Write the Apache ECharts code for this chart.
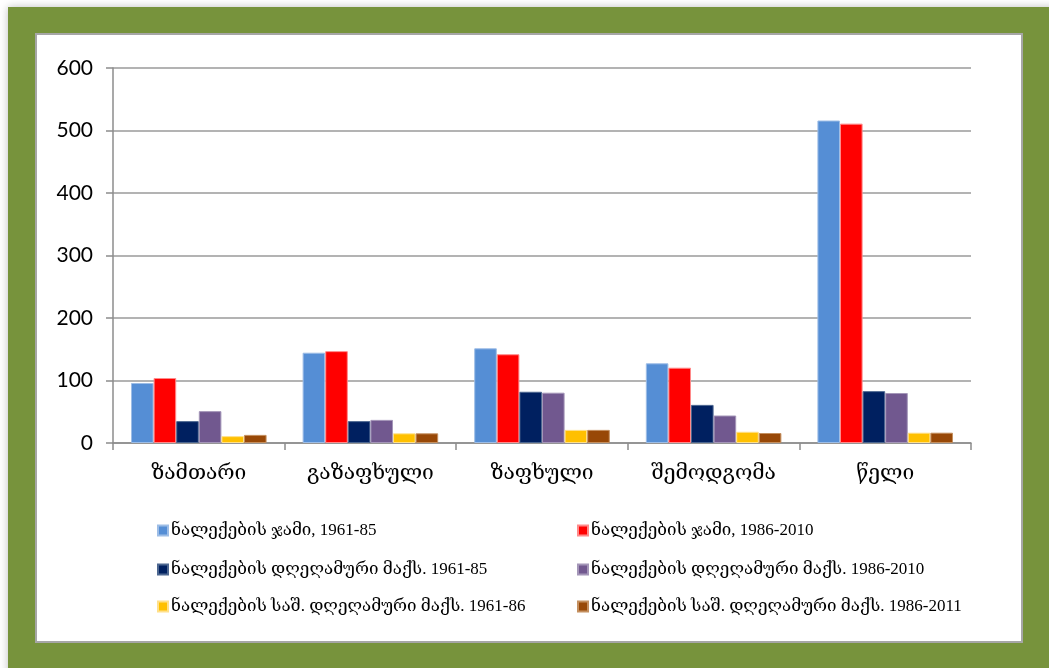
<!DOCTYPE html>
<html>
<head>
<meta charset="utf-8">
<script src="https://cdn.jsdelivr.net/npm/echarts@6/dist/echarts.min.js"></script>
<style>
  html, body { margin: 0; padding: 0; background: #ffffff; }
  #chart { width: 1049px; height: 668px; }
</style>
</head>
<body>
<div id="chart"></div>
<script>
// Seasons (x-axis categories)
const categories = ['ზამთარი', 'გაზაფხული', 'ზაფხული', 'შემოდგომა', 'წელი'];

// Precipitation series
const sumValues1961   = [96, 144.5, 151.5, 127.5, 516];
const sumValues1986   = [104, 147, 142, 120.5, 511];
const dailyMax1961    = [35, 35, 82, 61, 83];
const dailyMax1986    = [51, 37, 80.5, 44, 80];
const avgDailyMax1961 = [11, 15.5, 21, 18, 16.5];
const avgDailyMax1986 = [13, 15.5, 21, 16, 16.5];

// Y-axis ticks
const yTicks = [0, 100, 200, 300, 400, 500, 600];

const seriesNames = [
  'ნალექების ჯამი, 1961-85',
  'ნალექების ჯამი, 1986-2010',
  'ნალექების დღეღამური მაქს. 1961-85',
  'ნალექების დღეღამური მაქს. 1986-2010',
  'ნალექების საშ. დღეღამური მაქს. 1961-86',
  'ნალექების საშ. დღეღამური მაქს. 1986-2011'
];
const seriesData = [sumValues1961, sumValues1986, dailyMax1961, dailyMax1986, avgDailyMax1961, avgDailyMax1986];
const colors = ['#558ED5', '#FF0000', '#002060', '#71588F', '#FFC000', '#984807'];
const edgeColors = ['#9dbde6', '#ff8a8a', '#4d6790', '#a496b8', '#ffe08a', '#c48f5f'];

const chart = echarts.init(document.getElementById('chart'), null, { renderer: 'canvas' });

const serifFont = '"Liberation Serif", "DejaVu Serif", serif';

// Legend placed as a 2-column grid, one component per entry
const legendPos = [
  { left: 157, top: 522 }, { left: 577, top: 522 },
  { left: 157, top: 561 }, { left: 577, top: 561 },
  { left: 157, top: 598 }, { left: 577, top: 598 }
];
const legends = seriesNames.map((name, i) => ({
  data: [name],
  left: legendPos[i].left,
  top: legendPos[i].top,
  padding: 0,
  itemWidth: 10,
  itemHeight: 10,
  icon: 'rect',
  selectedMode: false,
  textStyle: { fontFamily: serifFont, fontSize: 17, color: '#000', padding: [0, 0, 0, -2] }
}));

chart.setOption({
  animation: false,
  color: colors,
  graphic: [
    {
      type: 'rect', z: -10,
      shape: { x: 8, y: 7, width: 1060, height: 680 },
      style: { fill: '#77933C', shadowBlur: 8, shadowColor: 'rgba(0,0,0,0.25)' }
    },
    {
      type: 'rect', z: -9,
      shape: { x: 36, y: 34, width: 986, height: 608 },
      style: { fill: '#ffffff', stroke: '#a6a6a6', lineWidth: 2 }
    }
  ],
  legend: legends,
  grid: { left: 113, right: 78, top: 68, bottom: 225, containLabel: false },
  xAxis: {
    type: 'category',
    data: categories,
    axisLine: { lineStyle: { color: '#8c8c8c', width: 1.5 } },
    axisTick: { show: true, length: 7, alignWithLabel: false, lineStyle: { color: '#8c8c8c', width: 1.5 } },
    axisLabel: { margin: 20, fontFamily: '"DejaVu Serif", serif', fontSize: 21, color: '#000' }
  },
  yAxis: {
    type: 'value',
    min: 0, max: 600, interval: 100,
    axisLine: { show: true, lineStyle: { color: '#8c8c8c', width: 1.5 } },
    axisTick: { show: true, length: 7, lineStyle: { color: '#8c8c8c', width: 1.5 } },
    axisLabel: {
      margin: 20, fontFamily: 'Lato, "Open Sans", sans-serif', fontSize: 21, color: '#000',
      formatter: v => (yTicks.includes(v) ? String(v) : '')
    },
    splitLine: { lineStyle: { color: '#9a9a9a', width: 1.5 } }
  },
  series: seriesNames.map((name, i) => ({
    name,
    type: 'bar',
    data: seriesData[i],
    barGap: '0%',
    barCategoryGap: '21%',
    itemStyle: { color: colors[i], borderColor: edgeColors[i], borderWidth: 1 }
  }))
});
</script>
</body>
</html>
